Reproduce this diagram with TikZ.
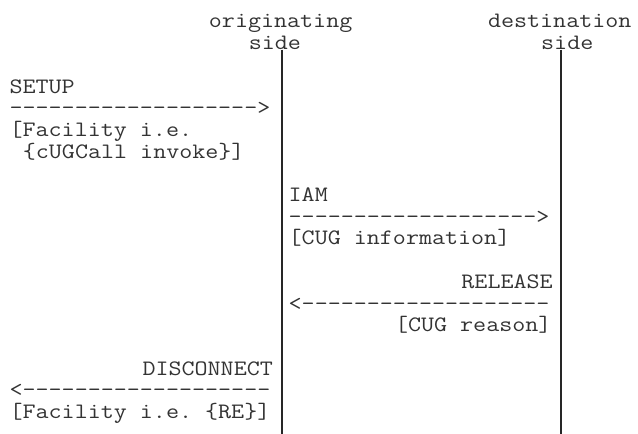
\documentclass[tikz,border=0pt]{standalone}
\usepackage{fontspec}
\frenchspacing
% character cell of the text grid
\newcommand{\cellstretch}{1.1506}
\tikzset{
  txt/.style={anchor=base west, inner sep=0pt, outer sep=0pt, text=black!80,
    font=\fontsize{22pt}{22pt}\selectfont\ttfamily\frenchspacing},
  lifeline/.style={draw=black!85, line width=1.3pt},
}
\newcommand{\cellt}[1]{\scalebox{\cellstretch}[1]{#1}}
\begin{document}
\begin{tikzpicture}
\useasboundingbox (0,0) rectangle (638pt,-434pt);
\begin{scope}[shift={(9.6pt,-27.9pt)}, x=13.29pt, y=-21.7pt]
  % column headings
  \node[txt] (origA) at (15,0) {\cellt{originating}};
  \node[txt] (origB) at (18,1) {\cellt{side}};
  \node[txt] (destA) at (36,0) {\cellt{destination}};
  \node[txt] (destB) at (40,1) {\cellt{side}};
  % lifelines
  \coordinate (o1) at (20.5,1.0);
  \coordinate (o2) at (20.5,18.75);
  \coordinate (d1) at (41.5,1.0);
  \coordinate (d2) at (41.5,18.75);
  \draw[lifeline] (o1) -- (o2);
  \draw[lifeline] (d1) -- (d2);
  % SETUP
  \node[txt] (setup)  at (0,3) {\cellt{SETUP}};
  \node[txt] (setupA) at (0,4) {\cellt{------------------->}};
  \node[txt] (setupB) at (0,5) {\cellt{[Facility i.e.}};
  \node[txt] (setupC) at (1,6) {\cellt{\{cUGCall invoke\}]}};
  % IAM
  \node[txt] (iam)  at (21,8)  {\cellt{IAM}};
  \node[txt] (iamA) at (21,9)  {\cellt{------------------->}};
  \node[txt] (iamB) at (21,10) {\cellt{[CUG information]}};
  % RELEASE
  \node[txt] (rel)  at (34,12) {\cellt{RELEASE}};
  \node[txt] (relA) at (21,13) {\cellt{<-------------------}};
  \node[txt] (relB) at (29,14) {\cellt{[CUG reason]}};
  % DISCONNECT
  \node[txt] (dis)  at (10,16) {\cellt{DISCONNECT}};
  \node[txt] (disA) at (0,17)  {\cellt{<-------------------}};
  \node[txt] (disB) at (0,18)  {\cellt{[Facility i.e. \{RE\}]}};
\end{scope}
\end{tikzpicture}
\end{document}
